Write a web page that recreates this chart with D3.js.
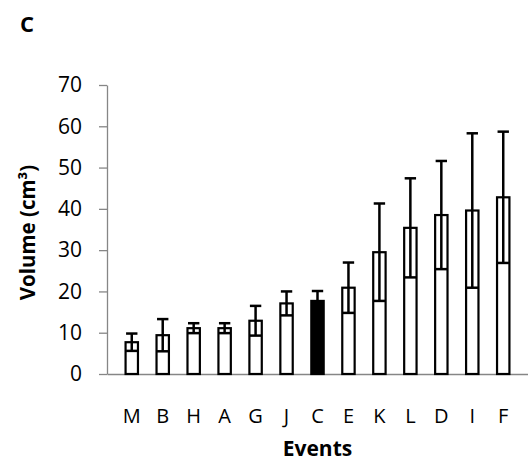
<!DOCTYPE html>
<html>
<head>
<meta charset="utf-8">
<script src="https://cdn.jsdelivr.net/npm/d3@7/dist/d3.min.js"></script>
<style>
  html, body { margin: 0; padding: 0; background: #fff; }
  svg { display: block; font-family: "Open Sans", "Liberation Sans", sans-serif; }
</style>
</head>
<body>
<svg id="chart" width="528" height="466"></svg>
<script>
// Event categories, mean volumes (cm³) and their error margins
const categories = ["M", "B", "H", "A", "G", "J", "C", "E", "K", "L", "D", "I", "F"];
const means  = [7.7, 9.4, 11.1, 11.1, 12.9, 17.1, 17.7, 20.9, 29.5, 35.4, 38.5, 39.6, 42.8];
const errors = [2.1, 3.9, 1.2, 1.2, 3.6, 2.9, 2.4, 6.1, 11.8, 12.0, 13.1, 18.7, 15.9];
const highlighted = ["C"];
const yTicks = [0, 10, 20, 30, 40, 50, 60, 70];

const data = categories.map((c, i) => ({ cat: c, mean: means[i], err: errors[i] }));

const svg = d3.select("#chart");
const margin = { left: 107, right: 0, top: 85, bottom: 92 };
const W = 528, H = 466;
const FONT = "'Open Sans', sans-serif";

const x = d3.scaleBand()
  .domain(categories)
  .range([margin.left, W - margin.right])
  .padding(0.6);

const y = d3.scaleLinear()
  .domain([0, 70])
  .range([H - margin.bottom, margin.top]);

const axisGray = "#868686";

// Y axis
const yAxis = svg.append("g")
  .attr("transform", `translate(${margin.left},0)`)
  .call(d3.axisLeft(y).tickValues(yTicks).tickSize(8).tickSizeOuter(0).tickPadding(17));
yAxis.select(".domain").attr("stroke", axisGray).attr("stroke-width", 1.3);
yAxis.selectAll(".tick line").attr("stroke", axisGray).attr("stroke-width", 1.3);
yAxis.selectAll(".tick text").attr("font-size", 21).attr("fill", "#000")
  .attr("font-family", FONT);

// X axis (baseline + category labels)
const xAxis = svg.append("g")
  .attr("transform", `translate(0,${y(0)})`)
  .call(d3.axisBottom(x).tickSize(0).tickSizeOuter(0).tickPadding(35));
xAxis.select(".domain").attr("stroke", axisGray).attr("stroke-width", 1.3);
xAxis.selectAll(".tick text").attr("font-size", 20).attr("fill", "#000")
  .attr("font-family", FONT);

// Bars
svg.append("g").selectAll("rect")
  .data(data)
  .join("rect")
  .attr("x", d => x(d.cat))
  .attr("y", d => y(d.mean))
  .attr("width", x.bandwidth())
  .attr("height", d => y(0) - y(d.mean))
  .attr("fill", d => highlighted.includes(d.cat) ? "#000" : "#fff")
  .attr("stroke", "#000")
  .attr("stroke-width", 2.2);

// Error bars: vertical whisker with caps at both ends
const capHalf = x.bandwidth() / 2 - 0.5;
const eb = svg.append("g").selectAll("g")
  .data(data)
  .join("g")
  .attr("transform", d => `translate(${x(d.cat) + x.bandwidth() / 2},0)`);
eb.append("line")
  .attr("x1", 0).attr("x2", 0)
  .attr("y1", d => y(d.mean - d.err))
  .attr("y2", d => y(d.mean + d.err))
  .attr("stroke", "#000").attr("stroke-width", 2.5);
eb.append("line")
  .attr("x1", -capHalf).attr("x2", capHalf)
  .attr("y1", d => y(d.mean + d.err)).attr("y2", d => y(d.mean + d.err))
  .attr("stroke", "#000").attr("stroke-width", 2.5);
eb.append("line")
  .attr("x1", -capHalf).attr("x2", capHalf)
  .attr("y1", d => y(d.mean - d.err)).attr("y2", d => y(d.mean - d.err))
  .attr("stroke", "#000").attr("stroke-width", 2.5);

// Axis titles
svg.append("text")
  .attr("transform", `translate(35,${(y(0) + y(70)) / 2 + 3}) rotate(-90)`)
  .attr("text-anchor", "middle")
  .attr("font-size", 20.5).attr("font-weight", "bold")
  .text("Volume (cm³)");

svg.append("text")
  .attr("x", (margin.left + W - margin.right) / 2).attr("y", 456)
  .attr("text-anchor", "middle")
  .attr("font-size", 21).attr("font-weight", "bold")
  .text("Events");

// Panel label
svg.append("text")
  .attr("x", 20).attr("y", 31.5)
  .attr("font-size", 22).attr("font-weight", "bold")
  .text("C");
</script>
</body>
</html>
